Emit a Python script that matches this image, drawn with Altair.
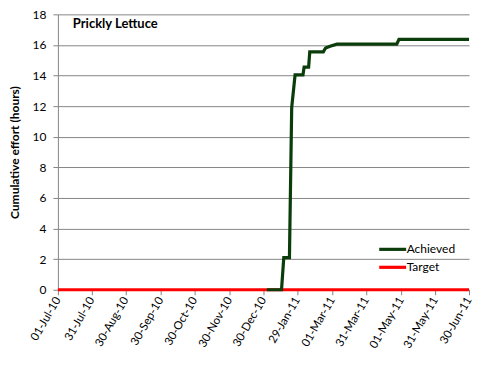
import altair as alt
import pandas as pd

title_text = "Prickly Lettuce"
y_title = "Cumulative effort (hours)"

achieved_dates = ["2011-01-02", "2011-01-15", "2011-01-17", "2011-01-22", "2011-01-24",
                  "2011-01-27", "2011-02-03", "2011-02-04", "2011-02-08", "2011-02-09",
                  "2011-02-21", "2011-02-23", "2011-02-27", "2011-03-05", "2011-04-27",
                  "2011-04-29", "2011-06-30"]
achieved_values = [0, 0, 2.1, 2.1, 11.9, 14.05, 14.05, 14.55, 14.55, 15.55,
                   15.55, 15.8, 15.92, 16.05, 16.05, 16.37, 16.37]

target_dates = ["2010-07-01", "2011-06-30"]
target_values = [0, 0]

tick_dates = [(2010, 7, 1), (2010, 7, 31), (2010, 8, 30), (2010, 9, 30), (2010, 10, 30),
              (2010, 11, 30), (2010, 12, 30), (2011, 1, 29), (2011, 3, 1), (2011, 3, 31),
              (2011, 5, 1), (2011, 5, 31), (2011, 6, 30)]
y_ticks = [0, 2, 4, 6, 8, 10, 12, 14, 16, 18]

series = ["Achieved", "Target"]
colors = ["#0b3d0b", "#ff0000"]

df = pd.DataFrame({
    "date": target_dates + achieved_dates,
    "value": target_values + achieved_values,
    "series": ["Target"] * len(target_dates) + ["Achieved"] * len(achieved_dates),
    "order": list(range(len(target_dates))) + list(range(len(achieved_dates))),
})

FONT = "Lato"

x_enc = alt.X(
    "date:T",
    scale=alt.Scale(type="utc",
                    domain=[alt.DateTime(year=2010, month=7, date=1, utc=True),
                            alt.DateTime(year=2011, month=6, date=30, utc=True)]),
    axis=alt.Axis(
        values=[alt.DateTime(year=y, month=m, date=d, utc=True) for (y, m, d) in tick_dates],
        format="%d-%b-%y", labelAngle=300, labelAlign="right", labelBaseline="middle",
        labelFontSize=11.5, labelColor="#000000", labelPadding=3, tickSize=5,
        tickColor="#868686", domainColor="#868686", grid=False, title=None,
        labelFont=FONT, labelOverlap=False, labelFlush=False),
)

y_enc = alt.Y(
    "value:Q",
    scale=alt.Scale(domain=[0, 18], nice=False),
    axis=alt.Axis(values=y_ticks, title=y_title, titleFont=FONT, titleFontSize=12,
                  titleFontWeight="bold", titleColor="#000000", titlePadding=11,
                  labelFont=FONT, labelFontSize=12, labelColor="#000000", labelPadding=7,
                  tickSize=5, tickColor="#868686", domainColor="#868686",
                  grid=True, gridColor="#868686", gridWidth=1),
)

lines = alt.Chart(df).mark_line(strokeWidth=3.2, interpolate="linear").encode(
    x=x_enc,
    y=y_enc,
    order="order:Q",
    color=alt.Color(
        "series:N",
        scale=alt.Scale(domain=series, range=colors),
        sort=series,
        legend=alt.Legend(title=None, orient="none", legendX=327, legendY=227,
                          symbolType="M-2,0H2", symbolSize=182, symbolStrokeWidth=3.2,
                          labelFont=FONT, labelFontSize=12, labelColor="#000000",
                          rowPadding=3, labelOffset=5.5),
    ),
)

title_df = pd.DataFrame({"t": [title_text]})
title = alt.Chart(title_df).mark_text(
    align="left", baseline="middle", font=FONT, fontSize=13, fontWeight="bold", color="#000000"
).encode(x=alt.value(15), y=alt.value(10), text="t:N")

chart = alt.layer(lines, title).properties(
    width=412, height=276,
    autosize=alt.AutoSizeParams(type="none"),
    padding={"left": 50, "top": 6, "right": 10, "bottom": 60},
    background="#ffffff",
).configure_view(stroke=None)

chart.save("out.html", embed_options={"renderer": "svg", "actions": False})
